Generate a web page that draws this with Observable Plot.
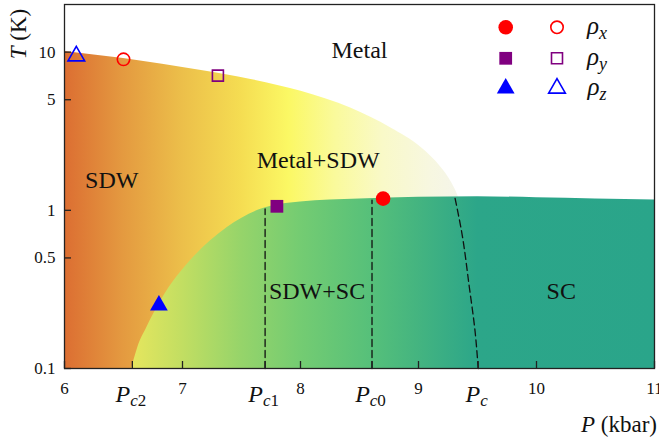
<!DOCTYPE html>
<html><head><meta charset="utf-8">
<script src="https://cdn.jsdelivr.net/npm/d3@7"></script>
<script src="https://cdn.jsdelivr.net/npm/@observablehq/plot@0.6"></script>
<style>body{margin:0;background:#fff} #chart{position:relative;width:659px;height:441px}</style>
</head><body><div id="chart"></div>
<script>
// ---- data ----
const xTicks = [6, 7, 8, 9, 10, 11];
const yTicks = [0.1, 0.5, 1, 5, 10];
const critSub = ["c2", "c1", "c0", "c"];
const critP = [6.575, 7.70, 8.606, 9.506];

// SDW (upper) phase boundary
const sdwP = [6.0, 6.5, 7.16, 7.58, 8.005, 8.43, 8.77, 9.02, 9.19, 9.28, 9.33, 9.35];
const sdwT = [10.1, 9.1, 7.65, 6.72, 5.65, 4.41, 3.30, 2.50, 1.87, 1.50, 1.26, 1.15];
// SC boundary
const scP = [6.57, 6.62, 6.7, 6.82, 7.1, 7.38, 7.67, 8.0, 8.5, 9.0, 9.5, 10.0, 10.5, 11.0];
const scT = [0.1, 0.135, 0.183, 0.27, 0.51, 0.78, 1.02, 1.13, 1.18, 1.21, 1.22, 1.20, 1.18, 1.16];
// dashed critical lines
const pc1P = [7.70, 7.70], pc1T = [0.1, 1.02];
const pc0P = [8.606, 8.606], pc0T = [0.1, 1.16];
const pcP = [9.31, 9.37, 9.43, 9.48, 9.506], pcT = [1.19, 0.7, 0.33, 0.17, 0.1];

// measured points
const filledP = [8.70, 7.80, 6.80], filledT = [1.185, 1.06, 0.251];
const openP = [6.50, 7.30, 6.10], openT = [9.0, 7.1, 9.45];
const seriesName = ["x", "y", "z"];
const seriesColor = ["#ff0000", "#800080", "#0000ff"];
const seriesSymbol = ["circle", "square", "triangle"];

// region labels
const regionText = ["Metal", "SDW", "Metal+SDW", "SDW+SC", "SC"];
const regionP = [8.50, 6.40, 8.15, 8.14, 10.21];
const regionT = [10.25, 1.55, 2.07, 0.308, 0.308];

// gradient colours (style)
const sdwStopP = [6.0, 6.5, 7.0, 7.5, 7.9, 8.3, 8.7, 9.1, 9.35];
const sdwStopC = ["#dc6e32", "#e49a40", "#ecbf4a", "#f5dd52", "#fbf864", "#fafa9c", "#f9f9c8", "#f7f7e0", "#f5f5ea"];
const scStopP = [6.57, 7.0, 7.5, 8.0, 8.6, 9.0, 9.5, 11.0];
const scStopC = ["#e6e65e", "#c2de62", "#96d46a", "#74cc72", "#56c07a", "#44b480", "#2ca689", "#2aa58a"];

// ---- tables ----
const sdw = sdwP.map((P, i) => ({P, T: sdwT[i]}));
const sc = scP.map((P, i) => ({P, T: scT[i]}));
const toPts = (ps, ts) => ps.map((P, i) => ({P, T: ts[i]}));
const dashes = [toPts(pc1P, pc1T), toPts(pc0P, pc0T), toPts(pcP, pcT)];
const filled = filledP.map((P, i) => ({P, T: filledT[i], i}));
const open = openP.map((P, i) => ({P, T: openT[i], i}));
const regions = regionText.map((t, i) => ({t, P: regionP[i], T: regionT[i]}));
const allTicksX = [...xTicks, ...critP];

const W = 659, H = 441, mL = 64, mR = 5, mT = 4, mB = 73;
const frameW = W - mL - mR, frameH = H - mT - mB;
const symR = {circle: 7.3, square: 7.2, triangle: 6.6};
const symRo = {circle: 6.2, square: 6.2, triangle: 6.2};
const font = "'Liberation Serif', Tinos, 'Times New Roman', 'DejaVu Serif', serif";

const plot = Plot.plot({
  width: W, height: H,
  marginLeft: mL, marginRight: mR, marginTop: mT, marginBottom: mB,
  style: {fontFamily: font, fontSize: "17px", background: "#fff", color: "#111"},
  x: {domain: [6, 11], label: null},
  y: {type: "log", domain: [0.1, 20], label: null},
  marks: [
    Plot.areaY(sdw, {x: "P", y1: 0.1, y2: "T", curve: "monotone-x", fill: "url(#sdwGrad)"}),
    Plot.areaY(sc, {x: "P", y1: 0.1, y2: "T", curve: "monotone-x", fill: "url(#scGrad)"}),
    ...dashes.map(d => Plot.line(d, {x: "P", y: "T", stroke: "#111", strokeWidth: 1.3, strokeDasharray: "7,4", curve: "monotone-y"})),
    Plot.frame({stroke: "#222", strokeWidth: 1.3}),
    Plot.tickX(allTicksX, {x: d => d, insetTop: frameH - 7, stroke: "#222", strokeWidth: 1.3}),
    Plot.tickY(yTicks, {y: d => d, insetRight: frameW - 7, stroke: "#222", strokeWidth: 1.3}),
    Plot.axisX({ticks: xTicks, tickSize: 0, tickPadding: 13, tickFormat: d => String(d), fontSize: 17, label: null}),
    Plot.axisY({ticks: yTicks, tickSize: 0, tickPadding: 9, tickFormat: d => String(d), fontSize: 17, label: null}),
    ...[0, 1, 2].map(k => Plot.dot(filled.filter(d => d.i === k), {x: "P", y: "T", symbol: seriesSymbol[k], r: symR[seriesSymbol[k]], fill: seriesColor[k], stroke: "none"})),
    ...[0, 1, 2].map(k => Plot.dot(open.filter(d => d.i === k), {x: "P", y: "T", symbol: seriesSymbol[k], r: symRo[seriesSymbol[k]], fill: "none", stroke: seriesColor[k], strokeWidth: 1.6})),
    Plot.text(regions, {x: "P", y: "T", text: "t", fontSize: 24, fill: "#111", fontFamily: font})
  ]
});

const xs = plot.scale("x");
const svg = d3.select(plot);
const defs = svg.insert("defs", ":first-child");
function grad(id, ps, cs) {
  const g = defs.append("linearGradient").attr("id", id).attr("gradientUnits", "userSpaceOnUse")
    .attr("x1", xs.apply(ps[0])).attr("x2", xs.apply(ps[ps.length - 1])).attr("y1", 0).attr("y2", 0);
  const p0 = ps[0], span = ps[ps.length - 1] - p0;
  ps.forEach((p, i) => g.append("stop").attr("offset", (p - p0) / span).attr("stop-color", cs[i]));
}
grad("sdwGrad", sdwStopP, sdwStopC);
grad("scGrad", scStopP, scStopC);

// critical pressure labels
critP.forEach((p, i) => {
  const t = svg.append("text").attr("x", xs.apply(p) - 1).attr("y", 402)
    .attr("font-family", font).attr("font-size", 24).attr("fill", "#111").attr("text-anchor", "middle");
  t.append("tspan").attr("font-style", "italic").text("P");
  const s = critSub[i];
  t.append("tspan").attr("font-style", "italic").attr("font-size", 17).attr("dy", 4).text(s[0]);
  if (s.length > 1) t.append("tspan").attr("font-size", 17).text(s.slice(1));
});
// axis labels
const xl = svg.append("text").attr("x", 657).attr("y", 432).attr("text-anchor", "end")
  .attr("font-family", font).attr("font-size", 23).attr("fill", "#111");
xl.append("tspan").attr("font-style", "italic").text("P");
xl.append("tspan").text(" (kbar)");
const yl = svg.append("text").attr("transform", "translate(26,34) rotate(-90)").attr("text-anchor", "middle")
  .attr("font-family", font).attr("font-size", 23).attr("fill", "#111");
yl.append("tspan").attr("font-style", "italic").text("T");
yl.append("tspan").text(" (K)");
// legend
const legRows = [27.3, 58.3, 88.3];
const lg = svg.append("g");
[0, 1, 2].forEach(k => {
  const sym = {circle: d3.symbolCircle, square: d3.symbolSquare, triangle: d3.symbolTriangle}[seriesSymbol[k]];
  lg.append("path").attr("transform", `translate(505.7,${legRows[k]})`)
    .attr("d", d3.symbol(sym, Math.PI * symR[seriesSymbol[k]] ** 2)()).attr("fill", seriesColor[k]);
  lg.append("path").attr("transform", `translate(557,${legRows[k]})`)
    .attr("d", d3.symbol(sym, Math.PI * symRo[seriesSymbol[k]] ** 2)()).attr("fill", "none")
    .attr("stroke", seriesColor[k]).attr("stroke-width", 1.6);
  const t = lg.append("text").attr("x", 597).attr("y", legRows[k] + 7)
    .attr("font-family", font).attr("font-size", 25).attr("font-style", "italic").attr("fill", "#111");
  t.append("tspan").text("ρ");
  t.append("tspan").attr("font-size", 18).attr("dy", 5).text(seriesName[k]);
});
document.getElementById("chart").appendChild(plot);
</script></body></html>
